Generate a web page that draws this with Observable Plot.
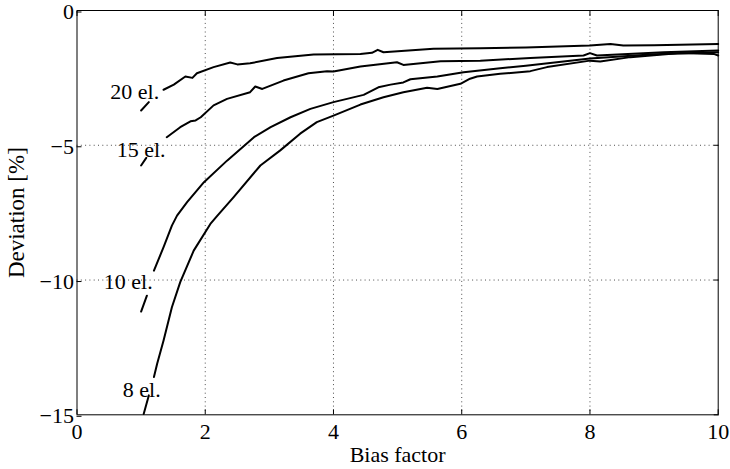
<!DOCTYPE html>
<html>
<head>
<meta charset="utf-8">
<script src="https://cdn.jsdelivr.net/npm/d3@7"></script>
<script src="https://cdn.jsdelivr.net/npm/@observablehq/plot@0.6"></script>
<style>
  html, body { margin: 0; padding: 0; background: #fff; }
</style>
</head>
<body>
<div id="chart"></div>
<script>
// ---- data ----
const seriesNames = ["20 el.", "15 el.", "10 el.", "8 el."];

const x20 = [1.00, 1.12, 1.2, 1.35, 1.51, 1.69, 1.80, 1.87, 2.13, 2.39, 2.50, 2.70, 3.12, 3.69, 4.42, 4.60, 4.69, 4.78, 5.56, 6.29, 7.00, 8.00, 8.32, 8.52, 9.00, 10.00];
const y20 = [-3.71, -3.40, null, -2.94, -2.75, -2.45, -2.50, -2.33, -2.10, -1.93, -2.00, -1.96, -1.76, -1.63, -1.61, -1.57, -1.46, -1.55, -1.42, -1.40, -1.37, -1.30, -1.24, -1.30, -1.29, -1.24];

const x15 = [1.00, 1.08, 1.2, 1.40, 1.61, 1.77, 1.85, 1.93, 2.13, 2.34, 2.70, 2.78, 2.89, 3.22, 3.61, 3.90, 4.00, 4.42, 4.99, 5.09, 5.67, 6.29, 7.07, 7.90, 8.00, 8.11, 9.15, 10.00];
const y15 = [-5.75, -5.47, null, -4.70, -4.33, -4.11, -4.08, -3.96, -3.52, -3.28, -3.03, -2.82, -2.91, -2.60, -2.33, -2.25, -2.26, -2.08, -1.92, -2.02, -1.88, -1.86, -1.76, -1.67, -1.58, -1.67, -1.55, -1.48];

const x10 = [1.00, 1.09, 1.15, 1.20, 1.35, 1.48, 1.56, 1.72, 1.98, 2.34, 2.76, 3.02, 3.33, 3.64, 4.00, 4.47, 4.70, 4.89, 5.09, 5.20, 5.62, 6.03, 6.60, 7.00, 8.00, 9.00, 10.00];
const y10 = [-11.17, -10.58, null, -9.65, -8.78, -7.98, -7.61, -7.10, -6.37, -5.57, -4.70, -4.33, -3.96, -3.65, -3.40, -3.13, -2.85, -2.75, -2.67, -2.55, -2.45, -2.29, -2.14, -2.05, -1.78, -1.62, -1.55];

const x8 = [1.04, 1.12, 1.16, 1.20, 1.25, 1.35, 1.48, 1.61, 1.82, 2.08, 2.19, 2.44, 2.86, 3.17, 3.48, 3.74, 4.00, 4.42, 4.78, 5.09, 5.46, 5.62, 5.98, 6.13, 6.24, 6.60, 7.07, 7.33, 8.00, 8.16, 8.63, 9.41, 9.93, 10.00];
const y8 = [-14.97, -14.28, null, -13.60, -13.11, -12.24, -11.01, -10.08, -8.91, -7.92, -7.61, -6.93, -5.75, -5.19, -4.57, -4.14, -3.90, -3.49, -3.22, -3.03, -2.87, -2.91, -2.72, -2.53, -2.45, -2.35, -2.25, -2.10, -1.86, -1.89, -1.73, -1.58, -1.61, -1.67];

const labelX = [0.90, 1.00, 0.80, 1.01];
const labelY = [-3.04, -5.19, -10.06, -14.06];

const xTicks = [0, 2, 4, 6, 8, 10];
const yTicks = [0, -5, -10, -15];
const xGrid = [2, 4, 6, 8];
const yGrid = [-5, -10];

// ---- build tidy table ----
const seriesX = [x20, x15, x10, x8];
const seriesY = [y20, y15, y10, y8];
const rows = [];
seriesNames.forEach((name, i) => {
  seriesX[i].forEach((xv, j) => rows.push({series: name, x: xv, y: seriesY[i][j]}));
});
const labels = seriesNames.map((name, i) => ({name, x: labelX[i], y: labelY[i]}));

const font = "'Liberation Serif', 'Times New Roman', serif";

const chart = Plot.plot({
  width: 730,
  height: 469,
  marginLeft: 76.5,
  marginRight: 12.3,
  marginTop: 10,
  marginBottom: 54.7,
  style: {fontFamily: font, fontSize: "22px", background: "#fff", color: "#000"},
  x: {domain: [0, 10]},
  y: {domain: [-15, 0]},
  marks: [
    Plot.gridX(xGrid, {stroke: "#000", strokeOpacity: 0.7, strokeDasharray: "1,3.3"}),
    Plot.gridY(yGrid, {stroke: "#000", strokeOpacity: 0.7, strokeDasharray: "1,3.3"}),
    Plot.axisX(xTicks, {anchor: "bottom", tickSize: -5, tickPadding: 14, label: null, fontSize: 22}),
    Plot.axisX(xTicks, {anchor: "top", tickSize: -5, tickFormat: () => "", label: null}),
    Plot.axisY(yTicks, {anchor: "left", tickSize: -5, tickPadding: 8, label: null, fontSize: 22, dy: 1.5}),
    Plot.axisY(yTicks, {anchor: "right", tickSize: -5, tickFormat: () => "", label: null}),
    Plot.line(rows, {x: "x", y: "y", z: "series", stroke: "#000", strokeWidth: 2}),
    Plot.text(labels, {x: "x", y: "y", text: "name", fontSize: 22, fill: "#000"}),
    Plot.text(["Bias factor"], {frameAnchor: "bottom", textAnchor: "middle", lineAnchor: "middle", dy: 40, fontSize: 22, fill: "#000"}),
    Plot.text(["Deviation [%]"], {frameAnchor: "left", textAnchor: "middle", lineAnchor: "middle", dx: -60, rotate: -90, fontSize: 23, fill: "#000"}),
    Plot.frame({stroke: "#000", strokeWidth: 1})
  ]
});
document.getElementById("chart").appendChild(chart);
</script>
</body>
</html>
